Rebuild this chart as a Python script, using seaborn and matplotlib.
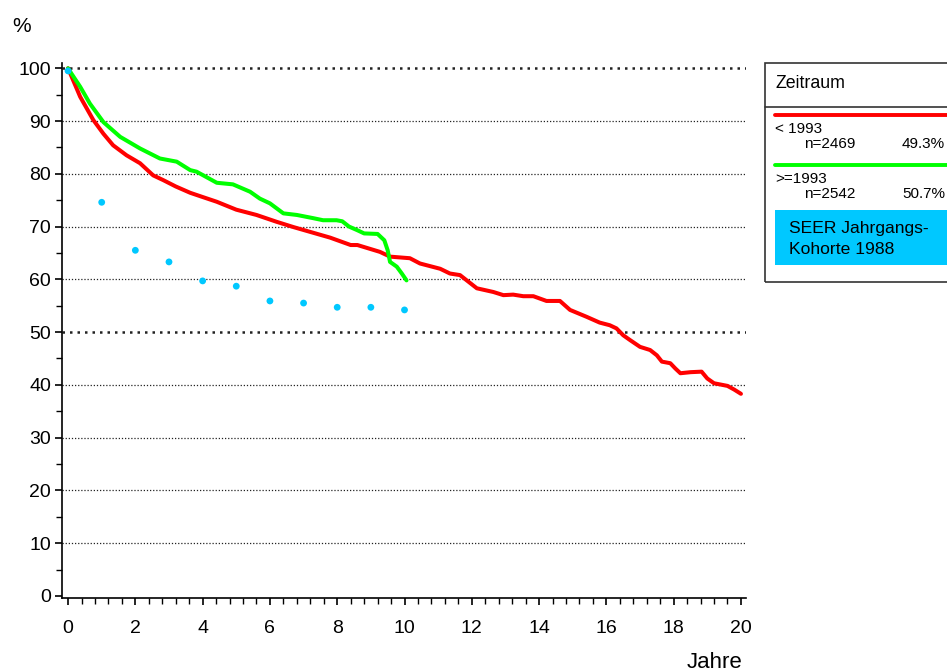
import numpy as np
import pandas as pd
import matplotlib
matplotlib.use("Agg")
import matplotlib.pyplot as plt
import seaborn as sns
from matplotlib.patches import Rectangle
from matplotlib.lines import Line2D
from matplotlib.ticker import MultipleLocator

# ---- data ----
red_t = [0, 0.1, 0.36, 0.75, 1.05, 1.34, 1.74, 2.14, 2.53, 2.83, 3.2, 3.63, 4.0, 4.42, 5.0,
         5.6, 6.2, 6.7, 7.19, 7.79, 8.4, 8.6, 9.27, 9.57, 9.96, 10.16, 10.46, 11.06, 11.35,
         11.65, 12.15, 12.64, 12.94, 13.23, 13.53, 13.83, 14.22, 14.62, 14.92, 15.41, 15.8,
         16.1, 16.3, 16.5, 16.7, 17.0, 17.3, 17.5, 17.65, 17.9, 18.05, 18.2, 18.5, 18.83,
         19.0, 19.2, 19.6, 19.8, 20.0]
red_v = [100, 98.5, 94.6, 90.2, 87.6, 85.4, 83.5, 82.0, 79.7, 78.8, 77.6, 76.4, 75.6, 74.7, 73.2,
         72.2, 70.9, 69.9, 69.0, 67.9, 66.5, 66.5, 65.2, 64.3, 64.1, 64.0, 63.0, 62.0, 61.1,
         60.8, 58.3, 57.6, 57.0, 57.1, 56.8, 56.8, 55.9, 55.9, 54.2, 52.9, 51.8,
         51.3, 50.7, 49.4, 48.5, 47.2, 46.6, 45.6, 44.4, 44.1, 43.1, 42.2, 42.4, 42.5,
         41.2, 40.3, 39.8, 39.1, 38.3]

green_t = [0, 0.1, 0.36, 0.65, 1.05, 1.55, 2.14, 2.73, 3.23, 3.63, 3.82, 4.42, 4.9, 5.41, 5.7,
           6.0, 6.4, 6.8, 7.28, 7.58, 7.98, 8.15, 8.35, 8.6, 8.8, 9.2, 9.4, 9.5, 9.57, 9.77,
           9.92, 10.06]
green_v = [100, 99.0, 96.5, 93.3, 89.8, 87.0, 84.8, 82.9, 82.3, 80.7, 80.4, 78.3, 78.0, 76.6, 75.3,
           74.4, 72.5, 72.2, 71.6, 71.2, 71.2, 71.0, 70.0, 69.3, 68.7, 68.6, 67.4, 65.5, 63.3, 62.4,
           61.1, 59.8]

seer_t = [0, 1, 2, 3, 4, 5, 6, 7, 8, 9, 10]
seer_v = [99.5, 74.6, 65.5, 63.3, 59.7, 58.7, 55.9, 55.5, 54.7, 54.7, 54.2]

y_ticks = [0, 10, 20, 30, 40, 50, 60, 70, 80, 90, 100]
x_ticks = [0, 2, 4, 6, 8, 10, 12, 14, 16, 18, 20]

legend_title = "Zeitraum"
groups = ["< 1993", ">=1993"]
group_n = ["n=2469", "n=2542"]
group_pct = ["49.3%", "50.7%"]
seer_lines = ["SEER Jahrgangs-", "Kohorte 1988"]

RED = "#ff0000"
GREEN = "#00ff00"
CYAN = "#00c8ff"

sns.set_theme(style="white")
plt.rcParams['font.family'] = ['Liberation Sans', 'DejaVu Sans']

W, H = 947, 672
fig = plt.figure(figsize=(W / 100, H / 100), dpi=100)
ax = fig.add_axes([62 / W, 1 - 598 / H, (746 - 62) / W, (598 - 63) / H])

ax.set_xlim(-0.18, 20.15)
ax.set_ylim(-0.4, 101.0)

# grid lines
for yv in y_ticks[1:]:
    major = yv in (50, 100)
    ax.axhline(yv, color="#222222", lw=1.8 if major else 0.9,
               ls=(0, (1, 2)) if major else (0, (1, 1.5)), zorder=1)

df_red = pd.DataFrame({"t": red_t, "v": red_v})
df_green = pd.DataFrame({"t": green_t, "v": green_v})
df_seer = pd.DataFrame({"t": seer_t, "v": seer_v})

sns.lineplot(data=df_red, x="t", y="v", ax=ax, color=RED, lw=2.9, sort=False,
             estimator=None, zorder=3)
sns.lineplot(data=df_green, x="t", y="v", ax=ax, color=GREEN, lw=2.9, sort=False,
             estimator=None, zorder=4)
sns.scatterplot(data=df_seer, x="t", y="v", ax=ax, color=CYAN, s=24, edgecolor="none",
                zorder=5)

ax.set_xlabel("")
ax.set_ylabel("")
for s in ["top", "right"]:
    ax.spines[s].set_visible(False)
for s in ["left", "bottom"]:
    ax.spines[s].set_color("black")
    ax.spines[s].set_linewidth(1.2)

ax.set_xticks(x_ticks)
ax.set_yticks(y_ticks)
ax.xaxis.set_minor_locator(MultipleLocator(0.4))
ax.yaxis.set_minor_locator(MultipleLocator(5))
ax.tick_params(axis="both", which="major", direction="out", length=5, width=1.2,
               color="black", labelsize=14, labelcolor="black", bottom=True, left=True)
ax.tick_params(axis="both", which="minor", direction="out", length=4, width=1.0,
               color="black", bottom=True, left=True)
ax.tick_params(axis="x", pad=11)
ax.tick_params(axis="y", pad=3)

fig.text(12 / W, 1 - 26 / H, "%", fontsize=15, va="center", ha="left", color="black")
fig.text(742 / W, 1 - 662 / H, "Jahre", fontsize=16, va="center", ha="right", color="black")

# ---- legend box ----
def fx(px):
    return px / W

def fy(py):
    return 1 - py / H

fig.patches.append(Rectangle((fx(765), fy(282)), fx(1000) - fx(765), fy(63) - fy(282),
                             transform=fig.transFigure, fill=False, edgecolor="#333333",
                             lw=1.2))
fig.lines.append(Line2D([fx(765), fx(1000)], [fy(107), fy(107)], transform=fig.transFigure,
                        color="#333333", lw=1.2))
fig.text(fx(775), fy(84), legend_title, fontsize=12.8, va="center", ha="left", color="black")

line_y = [115, 165]
cols = [RED, GREEN]
for i in range(2):
    fig.lines.append(Line2D([fx(775), fx(1000)], [fy(line_y[i]), fy(line_y[i])],
                            transform=fig.transFigure, color=cols[i], lw=2.8))
    fig.text(fx(775), fy(line_y[i] + 14), groups[i], fontsize=11, va="center", ha="left",
             color="black")
    fig.text(fx(804), fy(line_y[i] + 29), group_n[i], fontsize=11, va="center", ha="left",
             color="black")
    fig.text(fx(945), fy(line_y[i] + 29), group_pct[i], fontsize=11, va="center", ha="right",
             color="black")

fig.patches.append(Rectangle((fx(775), fy(265)), fx(1000) - fx(775), fy(210) - fy(265),
                             transform=fig.transFigure, facecolor=CYAN, edgecolor="none"))
for j, (txt, yy) in enumerate(zip(seer_lines, [229, 250])):
    fig.text(fx(789), fy(yy), txt, fontsize=12.6, va="center", ha="left", color="black")

fig.savefig("out.png", dpi=100)
